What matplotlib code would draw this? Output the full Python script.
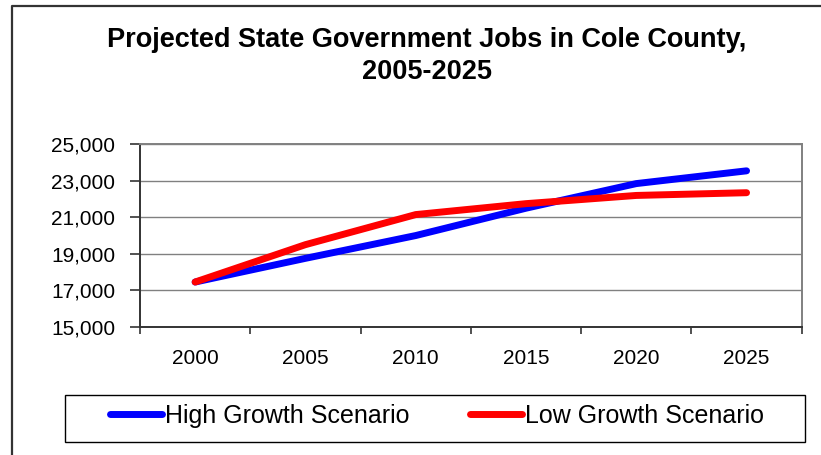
import matplotlib
matplotlib.use("Agg")
import matplotlib.pyplot as plt
from matplotlib.lines import Line2D
from matplotlib.patches import Rectangle

plt.rcParams['font.family'] = ['Liberation Sans', 'DejaVu Sans']

years = ["2000", "2005", "2010", "2015", "2020", "2025"]
high_growth = [17450, 18750, 20000, 21500, 22850, 23550]
low_growth = [17450, 19500, 21150, 21750, 22200, 22350]
y_ticks = [15000, 17000, 19000, 21000, 23000, 25000]

W, H = 821, 455
fig = plt.figure(figsize=(W / 100, H / 100), dpi=100)

# outer chart frame (runs past the right and bottom edges)
fig.add_artist(Line2D([11.5 / W, 11.5 / W, 1.02], [-0.02, 1 - 5.5 / H, 1 - 5.5 / H],
                      transform=fig.transFigure, color='#333333', lw=1.6))

ax = fig.add_axes([140 / W, 1 - 326.7 / H, (801.7 - 140) / W, (326.7 - 144.4) / H])

x = list(range(len(years)))
ax.plot(x, high_growth, color='#0000FF', lw=5, solid_capstyle='round',
        solid_joinstyle='round', label='High Growth Scenario', zorder=3)
ax.plot(x, low_growth, color='#FF0000', lw=5, solid_capstyle='round',
        solid_joinstyle='round', label='Low Growth Scenario', zorder=4)

ax.set_xlim(-0.5, len(years) - 0.5)
ax.set_ylim(15000, 25000)

# category boundaries carry the tick marks, centres carry the labels
ax.set_xticks([i - 0.5 for i in range(len(years) + 1)])
ax.set_xticklabels([])
ax.set_xticks(x, minor=True)
ax.set_xticklabels(years, minor=True, fontsize=15)
ax.tick_params(axis='x', which='major', direction='out', length=5, width=1.2, color='#333333')
ax.tick_params(axis='x', which='minor', length=0, pad=16)

ax.set_yticks(y_ticks)
ax.set_yticklabels([f"{v:,}" for v in y_ticks], fontsize=15)
ax.tick_params(axis='y', direction='out', length=7, width=1.2, color='#333333', pad=11)

ax.grid(axis='y', color='#808080', lw=1.0, zorder=1)
ax.set_axisbelow(True)
for side in ('top', 'right'):
    ax.spines[side].set_color('#808080')
    ax.spines[side].set_linewidth(1.4)
for side in ('left', 'bottom'):
    ax.spines[side].set_color('#333333')
    ax.spines[side].set_linewidth(1.4)

fig.text(427 / W, 1 - 40 / H, "Projected State Government Jobs in Cole County,",
         ha='center', va='center', fontsize=19.5, fontweight='bold')
fig.text(427 / W, 1 - 72 / H, "2005-2025",
         ha='center', va='center', fontsize=19.5, fontweight='bold')

# legend box with centred entries
fig.add_artist(Rectangle((65 / W, 1 - 442 / H), 740 / W, 47 / H,
                         transform=fig.transFigure, fill=False,
                         edgecolor='black', lw=1.0))
fig.legend(loc='center', ncol=2, bbox_to_anchor=(437 / W, 1 - 416 / H),
           frameon=False, fontsize=18, handlelength=2.1, handletextpad=0.12,
           borderaxespad=0, borderpad=0, columnspacing=2.4)

fig.savefig("out.png", dpi=100)
